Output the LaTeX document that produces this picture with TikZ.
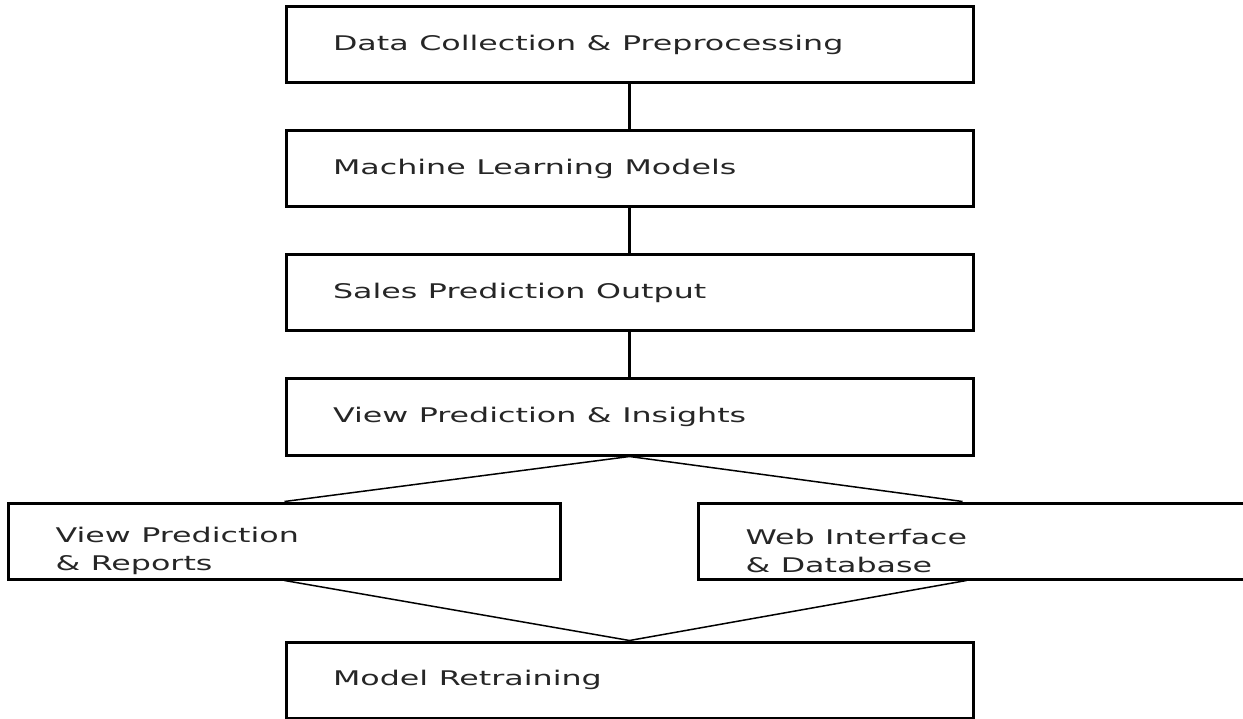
\documentclass[tikz,border=0pt]{standalone}
\usepackage{fontspec,graphicx}
\setmainfont{DejaVu Sans}
\usetikzlibrary{positioning}

% wide lettering
\newcommand{\wide}[1]{\scalebox{1.57}[1]{#1}}
% two lines, set a little low in the box
\newcommand{\twolines}[2]{\rule{0pt}{35pt}\wide{#1}\\\wide{#2}}

\begin{document}
\begin{tikzpicture}[x=1pt,y=1pt,node distance=45pt,
    block/.style={draw, line width=3pt, text width=593pt, align=left,
        inner sep=0pt, inner xsep=47pt, minimum height=76pt,
        text=black!85, font=\fontsize{20.2}{28}\selectfont},
    sidebox/.style={block, text width=458pt, inner xsep=47pt}]
          \useasboundingbox (0,0) rectangle (1243,-719);

          \node[block] (D) at (629.5,-45) {\wide{Data Collection \& Preprocessing}};
          \node[block, below=of D] (M) {\wide{Machine Learning Models}};
          \node[block, below=of M] (S) {\wide{Sales Prediction Output}};
          \node[block, below=of S] (V) {\wide{View Prediction \& Insights}};
          \node[sidebox, below=of V.south west] (R) {\twolines{View Prediction}{\& Reports}};
          \node[sidebox, below=of V.south east] (W) {\twolines{Web Interface}{\& Database}};
          \node[block, below=184pt of V] (T) {\wide{Model Retraining}};

          \draw[line width=3pt] (D) edge (M)
                (M) edge (S)
                (S) edge (V);
          \draw[line width=1.5pt] (V.south) -- (R.north)
                (V.south) -- ([xshift=-12pt]W.north)
                (R.south) -- (T.north)
                ([xshift=-8pt]W.south) -- (T.north);
        \end{tikzpicture}
\end{document}
